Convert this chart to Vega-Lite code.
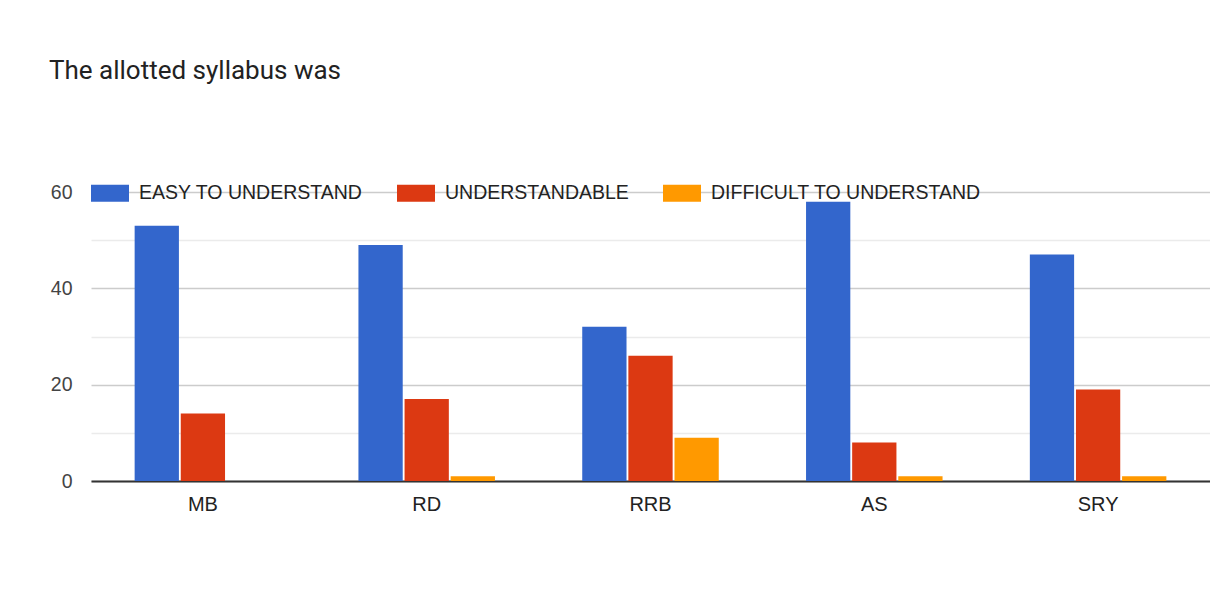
{
  "$schema": "https://vega.github.io/schema/vega-lite/v6.json",
  "width": 1119,
  "height": 289,
  "autosize": "none",
  "padding": {"left": 91, "top": 192, "right": 0, "bottom": 118},
  "background": "white",
  "title": {
    "text": "The allotted syllabus was",
    "anchor": "start",
    "frame": "group",
    "font": "Roboto",
    "fontSize": 26,
    "fontWeight": "normal",
    "color": "#222222",
    "dx": -42,
    "offset": 90
  },
  "data": {
    "values": [
      {"cat": "MB", "resp": "EASY TO UNDERSTAND", "n": 53},
      {"cat": "MB", "resp": "UNDERSTANDABLE", "n": 14},
      {"cat": "MB", "resp": "DIFFICULT TO UNDERSTAND", "n": 0},
      {"cat": "RD", "resp": "EASY TO UNDERSTAND", "n": 49},
      {"cat": "RD", "resp": "UNDERSTANDABLE", "n": 17},
      {"cat": "RD", "resp": "DIFFICULT TO UNDERSTAND", "n": 1},
      {"cat": "RRB", "resp": "EASY TO UNDERSTAND", "n": 32},
      {"cat": "RRB", "resp": "UNDERSTANDABLE", "n": 26},
      {"cat": "RRB", "resp": "DIFFICULT TO UNDERSTAND", "n": 9},
      {"cat": "AS", "resp": "EASY TO UNDERSTAND", "n": 58},
      {"cat": "AS", "resp": "UNDERSTANDABLE", "n": 8},
      {"cat": "AS", "resp": "DIFFICULT TO UNDERSTAND", "n": 1},
      {"cat": "SRY", "resp": "EASY TO UNDERSTAND", "n": 47},
      {"cat": "SRY", "resp": "UNDERSTANDABLE", "n": 19},
      {"cat": "SRY", "resp": "DIFFICULT TO UNDERSTAND", "n": 1}
    ]
  },
  "mark": {"type": "bar"},
  "encoding": {
    "x": {
      "field": "cat",
      "type": "nominal",
      "sort": ["MB", "RD", "RRB", "AS", "SRY"],
      "scale": {"paddingInner": 0.39, "paddingOuter": 0.195},
      "axis": {
        "title": null,
        "labelAngle": 0,
        "labelFont": "Liberation Sans",
        "labelFontSize": 20,
        "labelColor": "#222222",
        "labelPadding": 13,
        "ticks": false,
        "domainColor": "#333333",
        "domainWidth": 2,
        "grid": false
      }
    },
    "xOffset": {
      "field": "resp",
      "type": "nominal",
      "sort": ["EASY TO UNDERSTAND", "UNDERSTANDABLE", "DIFFICULT TO UNDERSTAND"],
      "scale": {"paddingInner": 0.04, "paddingOuter": 0}
    },
    "y": {
      "field": "n",
      "type": "quantitative",
      "scale": {"domain": [0, 60], "nice": false},
      "axis": {
        "title": null,
        "values": [0, 10, 20, 30, 40, 50, 60],
        "labelExpr": "datum.value % 20 === 0 ? datum.label : ''",
        "labelFont": "Liberation Sans",
        "labelFontSize": 19.5,
        "labelColor": "#444444",
        "labelPadding": 19,
        "ticks": false,
        "domain": false,
        "gridColor": {"condition": {"test": "datum.value % 20 === 0", "value": "#cccccc"}, "value": "#ebebeb"},
        "gridWidth": 1.5
      }
    },
    "color": {
      "field": "resp",
      "type": "nominal",
      "sort": ["EASY TO UNDERSTAND", "UNDERSTANDABLE", "DIFFICULT TO UNDERSTAND"],
      "scale": {
        "domain": ["EASY TO UNDERSTAND", "UNDERSTANDABLE", "DIFFICULT TO UNDERSTAND"],
        "range": ["#3366cc", "#dc3912", "#ff9900"]
      },
      "legend": {
        "title": null,
        "orient": "none",
        "legendX": 0,
        "legendY": -18,
        "direction": "horizontal",
        "symbolType": "M-1,-0.45H1V0.45H-1Z",
        "symbolSize": 1444,
        "symbolStrokeWidth": 0,
        "symbolOpacity": 1,
        "labelFont": "Liberation Sans",
        "labelFontSize": 19.5,
        "labelColor": "#222222",
        "labelOffset": 10,
        "columnPadding": 34,
        "labelLimit": 400
      }
    }
  },
  "config": {"view": {"stroke": null}}
}
